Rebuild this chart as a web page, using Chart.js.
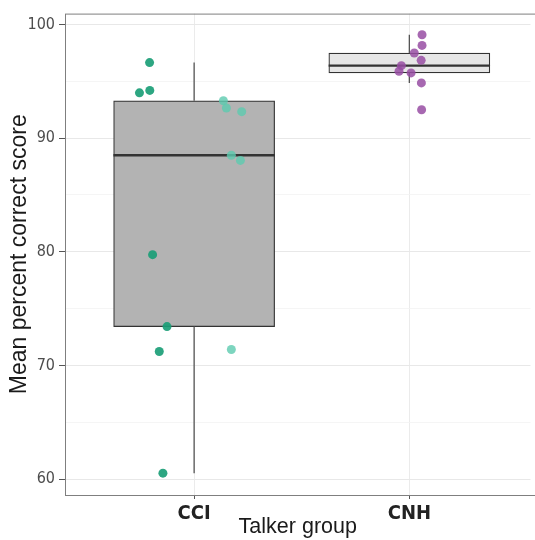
<!DOCTYPE html>
<html>
<head>
<meta charset="utf-8">
<script src="https://cdn.jsdelivr.net/npm/chart.js@4.4.1/dist/chart.umd.min.js"></script>
<style>
  html, body { margin: 0; padding: 0; background: #fff; }
  #wrap { width: 535px; height: 540px; }
</style>
</head>
<body>
<div id="wrap"><canvas id="chart" width="535" height="540"></canvas></div>
<script>
// Talker groups on the x axis
const categories = ['CCI', 'CNH'];
const yTickLabels = [60, 70, 80, 90, 100];

// CCI talkers (two shades), x = jittered position around group 1
const cciDarkScores = [96.65, 94.2, 93.99, 79.75, 73.42, 71.23, 60.52];
const cciDarkJitter = [0.793, 0.794, 0.746, 0.807, 0.874, 0.838, 0.855];
const cciLightScores = [93.29, 92.65, 92.33, 88.5, 88.04, 71.4];
const cciLightJitter = [1.136, 1.150, 1.221, 1.173, 1.215, 1.173];

// CNH talkers, jittered around group 2
const cnhScores = [99.1, 98.16, 97.49, 96.85, 96.38, 95.89, 95.74, 94.86, 92.5];
const cnhJitter = [2.059, 2.059, 2.023, 2.055, 1.963, 1.952, 2.008, 2.056, 2.057];

const tickFont = "'Liberation Sans Narrow', 'DejaVu Sans Condensed', 'Liberation Sans', sans-serif";
const titleFont = "'Liberation Sans', Arial, sans-serif";

function quantile(sorted, p) {
    const h = (sorted.length - 1) * p;
    const lo = Math.floor(h);
    const next = sorted[Math.min(lo + 1, sorted.length - 1)];
    return sorted[lo] + (h - lo) * (next - sorted[lo]);
}

// same rules as a ggplot boxplot (type 7 quantiles, 1.5 IQR whiskers)
function boxStats(values) {
    const s = [...values].sort((a, b) => a - b);
    const q1 = quantile(s, 0.25), med = quantile(s, 0.5), q3 = quantile(s, 0.75);
    const iqr = q3 - q1;
    const lo = s.find(v => v >= q1 - 1.5 * iqr);
    const hi = [...s].reverse().find(v => v <= q3 + 1.5 * iqr);
    return { q1, med, q3, lo, hi };
}

const stats = [boxStats(cciDarkScores.concat(cciLightScores)), boxStats(cnhScores)];
const boxWidth = 0.75;

const whiskerPts = [];
const medianPts = [];
stats.forEach((s, i) => {
    const x = i + 1;
    whiskerPts.push({ x, y: s.hi }, { x, y: s.q3 }, { x, y: null }, { x, y: s.q1 }, { x, y: s.lo }, { x, y: null });
    medianPts.push({ x: x - boxWidth / 2, y: s.med }, { x: x + boxWidth / 2, y: s.med }, { x, y: null });
});

const toPoints = (ys, xs) => ys.map((y, i) => ({ x: xs[i], y }));

// grey frame round the panel, drawn over the marks like ggplot does
const panelBorder = {
    id: 'panelBorder',
    afterDatasetsDraw(chart) {
        const { ctx, chartArea: a } = chart;
        ctx.save();
        ctx.strokeStyle = '#7f7f7f';
        ctx.lineWidth = 1;
        ctx.strokeRect(a.left + 0.5, a.top + 0.5, a.right - a.left + 20, a.bottom - a.top);
        ctx.restore();
    }
};

const isMajor = v => yTickLabels.includes(v);

new Chart(document.getElementById('chart'), {
    type: 'bar',
    data: {
        datasets: [
            {
                type: 'scatter',
                data: toPoints(cciDarkScores, cciDarkJitter),
                backgroundColor: 'rgba(27, 158, 119, 0.92)',
                borderWidth: 0,
                pointRadius: 4.5,
                order: 0
            },
            {
                type: 'scatter',
                data: toPoints(cciLightScores, cciLightJitter),
                backgroundColor: 'rgba(92, 202, 175, 0.8)',
                borderWidth: 0,
                pointRadius: 4.5,
                order: 0
            },
            {
                type: 'scatter',
                data: toPoints(cnhScores, cnhJitter),
                backgroundColor: 'rgba(152, 78, 163, 0.85)',
                borderWidth: 0,
                pointRadius: 4.5,
                order: 0
            },
            {
                type: 'line',
                data: medianPts,
                borderColor: '#333333',
                borderWidth: 2.4,
                pointRadius: 0,
                spanGaps: false,
                order: 1
            },
            {
                type: 'line',
                data: whiskerPts,
                borderColor: '#555555',
                borderWidth: 1.3,
                pointRadius: 0,
                spanGaps: false,
                order: 2
            },
            {
                type: 'bar',
                data: stats.map((s, i) => ({ x: i + 1, y: [s.q1, s.q3] })),
                backgroundColor: ['#b3b3b3', '#e6e6e6'],
                borderColor: '#333333',
                borderWidth: 1.2,
                borderSkipped: false,
                barThickness: 161,
                order: 3
            }
        ]
    },
    options: {
        responsive: false,
        animation: false,
        layout: { padding: { top: 11, left: 0, right: 0, bottom: 0 } },
        plugins: {
            legend: { display: false },
            tooltip: { enabled: false }
        },
        scales: {
            x: {
                type: 'linear',
                min: 0.4,
                max: 2.563,
                offset: false,
                afterBuildTicks: s => { s.ticks = categories.map((c, i) => ({ value: i + 1 })); },
                afterFit: s => { s.height = 45; },
                ticks: {
                    callback: v => categories[v - 1],
                    font: { family: tickFont, size: 20, weight: 'bold' },
                    color: '#222222',
                    padding: 3,
                    autoSkip: false,
                    maxRotation: 0
                },
                grid: { color: '#ebebeb', lineWidth: 1, tickLength: 4, tickColor: '#555555', offset: false },
                border: { display: false },
                title: {
                    display: true,
                    text: 'Talker group',
                    font: { family: titleFont, size: 21.5 },
                    color: '#1a1a1a',
                    padding: { top: 0, bottom: 0 }
                }
            },
            y: {
                type: 'linear',
                min: 58.6,
                max: 100.96,
                afterBuildTicks: s => {
                    const t = [];
                    yTickLabels.forEach((v, i) => {
                        t.push({ value: v });
                        if (i < yTickLabels.length - 1) t.push({ value: (v + yTickLabels[i + 1]) / 2 });
                    });
                    s.ticks = t;
                },
                afterFit: s => { s.width = 65; },
                ticks: {
                    callback: v => isMajor(v) ? v : '',
                    font: { family: tickFont, size: 16 },
                    color: '#4d4d4d',
                    padding: 4,
                    autoSkip: false
                },
                grid: {
                    color: c => isMajor(c.tick.value) ? '#e8e8e8' : '#f3f3f3',
                    lineWidth: c => isMajor(c.tick.value) ? 1 : 0.8,
                    tickColor: c => isMajor(c.tick.value) ? '#555555' : 'rgba(0,0,0,0)',
                    tickLength: 6
                },
                border: { display: false },
                title: {
                    display: true,
                    text: 'Mean percent correct score',
                    font: { family: titleFont, size: 23 },
                    color: '#1a1a1a',
                    padding: { top: 6, bottom: 0 }
                }
            }
        }
    },
    plugins: [panelBorder]
});
</script>
</body>
</html>
